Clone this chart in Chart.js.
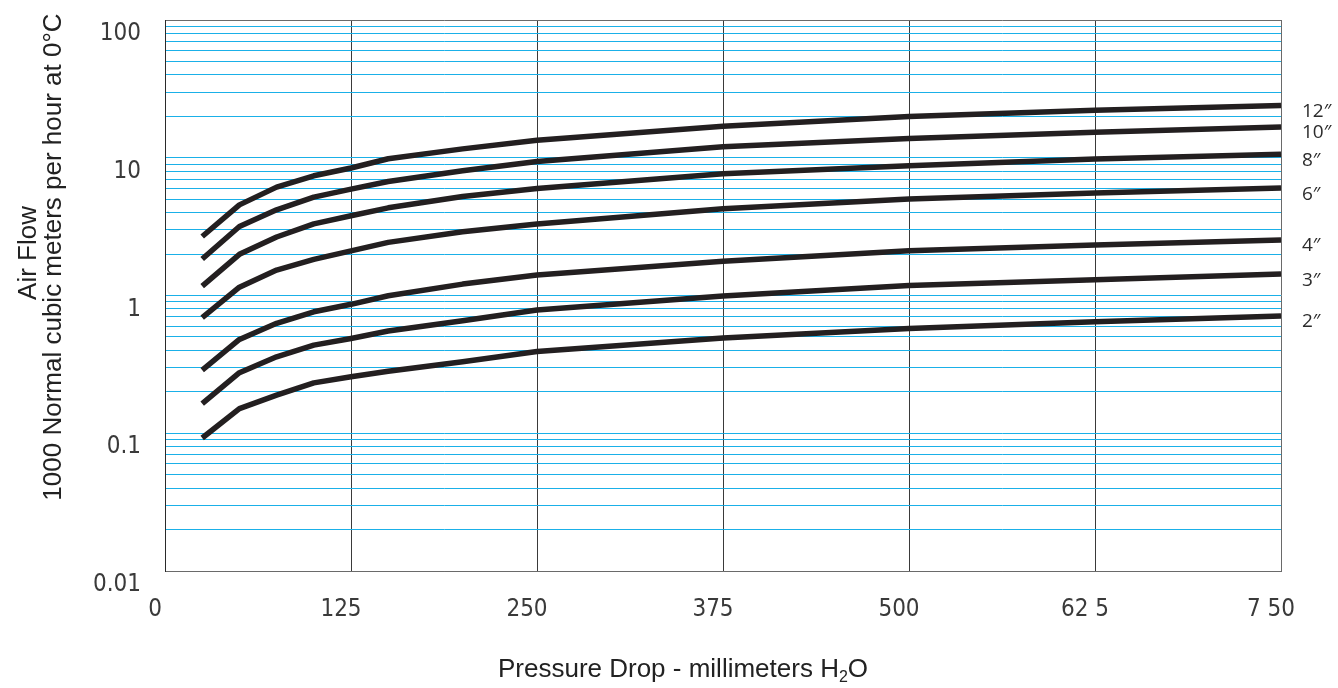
<!DOCTYPE html>
<html><head><meta charset="utf-8">
<script src="https://cdn.jsdelivr.net/npm/chart.js@4/dist/chart.umd.min.js"></script>
<style>html,body{margin:0;padding:0;background:#fff}#wrap{width:1338px;height:688px;position:relative}</style>
</head><body><div id="wrap"><canvas id="c" width="1338" height="688"></canvas></div>
<script>
// ---- data ----
const pressureDrop = [25, 50, 75, 100, 125, 150, 200, 250, 375, 500, 625, 750];
const seriesNames = ['12″', '10″', '8″', '6″', '4″', '3″', '2″'];
const flow12in = [2.68, 4.55, 6.12, 7.40, 8.42, 9.84, 11.6, 13.4, 16.9, 19.9, 22.1, 24.0];
const flow10in = [1.84, 3.17, 4.19, 5.18, 5.92, 6.72, 8.04, 9.40, 12.0, 13.8, 15.3, 16.7];
const flow8in  = [1.17, 1.99, 2.66, 3.31, 3.79, 4.33, 5.23, 5.98, 7.65, 8.75, 9.79, 10.6];
const flow6in  = [0.69, 1.15, 1.53, 1.83, 2.11, 2.43, 2.90, 3.31, 4.26, 5.01, 5.54, 6.02];
const flow4in  = [0.287, 0.480, 0.628, 0.762, 0.863, 0.996, 1.21, 1.41, 1.77, 2.11, 2.33, 2.53];
const flow3in  = [0.164, 0.275, 0.359, 0.436, 0.488, 0.552, 0.656, 0.785, 0.99, 1.18, 1.30, 1.43];
const flow2in  = [0.0924, 0.151, 0.189, 0.232, 0.257, 0.282, 0.330, 0.392, 0.491, 0.577, 0.645, 0.710];
const xTickLabels = ['0', '125', '250', '375', '500', '62 5', '7 50'];
const yTickLabels = ['0.01', '0.1', '1', '10', '100'];
const yTitleLines = ['Air Flow', '1000 Normal cubic meters per hour at 0°C'];
const xTitleParts = ['Pressure Drop - millimeters H', '2', 'O'];

const allSeries = [flow12in, flow10in, flow8in, flow6in, flow4in, flow3in, flow2in];

const TICK_FONT = "'Liberation Sans Narrow', 'DejaVu Sans Condensed', 'Arial Narrow', sans-serif";
const TITLE_FONT = "'Liberation Sans', Arial, Helvetica, sans-serif";
const LABEL_FONT = "'Open Sans', 'Liberation Sans', sans-serif";

const isDecade = v => Math.abs(Math.log10(v) - Math.round(Math.log10(v))) < 1e-9;

const textPlugin = {
  id: 'texts',
  afterDatasetsDraw(chart) {
    const ctx = chart.ctx;
    ctx.save();
    ctx.fillStyle = '#2b2b2b';
    ctx.font = "19px " + LABEL_FONT;
    ctx.textAlign = 'left';
    ctx.textBaseline = 'middle';
    chart.data.datasets.forEach((ds, i) => {
      const meta = chart.getDatasetMeta(i);
      const last = meta.data[meta.data.length - 1];
      ctx.fillText(ds.label, last.x + 21, last.y + 6);
    });
    ctx.restore();
  },
  afterDraw(chart) {
    const ctx = chart.ctx;
    ctx.save();
    ctx.fillStyle = '#222';
    // y title (rotated)
    ctx.font = "26px " + TITLE_FONT;
    ctx.textAlign = 'center';
    ctx.textBaseline = 'alphabetic';
    const yCenters = [[36, 253], [61, 257]];
    yTitleLines.forEach((t, i) => {
      ctx.save();
      ctx.translate(yCenters[i][0], yCenters[i][1]);
      ctx.rotate(-Math.PI / 2);
      ctx.fillText(t, 0, 0);
      ctx.restore();
    });
    // x title with subscript
    ctx.textAlign = 'left';
    const big = "26px " + TITLE_FONT, small = "16px " + TITLE_FONT;
    ctx.font = big; const w1 = ctx.measureText(xTitleParts[0]).width;
    ctx.font = small; const w2 = ctx.measureText(xTitleParts[1]).width;
    ctx.font = big; const w3 = ctx.measureText(xTitleParts[2]).width;
    let x = 683 - (w1 + w2 + w3) / 2;
    const base = 677;
    ctx.font = big; ctx.fillText(xTitleParts[0], x, base); x += w1;
    ctx.font = small; ctx.fillText(xTitleParts[1], x, base + 5); x += w2;
    ctx.font = big; ctx.fillText(xTitleParts[2], x, base);
    ctx.restore();
  }
};

new Chart(document.getElementById('c'), {
  type: 'line',
  data: {
    datasets: allSeries.map((arr, i) => ({
      label: seriesNames[i],
      data: pressureDrop.map((x, j) => ({ x: x, y: arr[j] })),
      borderColor: '#231f20',
      borderWidth: 5.5,
      pointRadius: 0,
      tension: 0,
      fill: false,
      borderCapStyle: 'butt',
      borderJoinStyle: 'round'
    }))
  },
  options: {
    responsive: false,
    animation: false,
    events: [],
    layout: { padding: { top: 20, right: 57, left: 0, bottom: 0 } },
    plugins: { legend: { display: false }, tooltip: { enabled: false }, title: { display: false } },
    scales: {
      x: {
        type: 'linear',
        min: 0, max: 750,
        afterFit: s => { s.height = 117; s.paddingLeft = 0; s.paddingRight = 0; },
        ticks: {
          stepSize: 125,
          autoSkip: false,
          maxRotation: 0,
          padding: 24,
          labelOffset: -10,
          color: '#3a3a3a',
          font: { family: TICK_FONT, size: 24 },
          callback: (v, i) => xTickLabels[i]
        },
        grid: {
          drawTicks: false,
          lineWidth: 1,
          color: ctx => (ctx.tick && (ctx.tick.value === 0 || ctx.tick.value === 750)) ? '#6a6a6a' : '#3a3a3a'
        },
        border: { display: true, color: '#6a6a6a', width: 1 }
      },
      y: {
        type: 'logarithmic',
        min: 0.01, max: 100,
        afterFit: s => { s.width = 165; s.paddingTop = 0; s.paddingBottom = 0; },
        afterBuildTicks: s => {
          const t = [];
          for (let e = -2; e < 2; e++) {
            for (let k = 1; k <= 9; k++) t.push({ value: k * Math.pow(10, e) });
          }
          t.push({ value: 100 });
          s.ticks = t;
        },
        ticks: {
          autoSkip: false,
          padding: 24,
          labelOffset: 14,
          color: '#3a3a3a',
          font: { family: TICK_FONT, size: 24 },
          callback: v => isDecade(v) ? yTickLabels[Math.round(Math.log10(v)) + 2] : ''
        },
        grid: {
          drawTicks: false,
          lineWidth: 1,
          color: ctx => {
            const v = ctx.tick ? ctx.tick.value : 0;
            if (Math.abs(v - 100) < 1e-9 || Math.abs(v - 0.01) < 1e-12) return '#6a6a6a';
            return '#1ab0e8';
          }
        },
        border: { display: true, color: '#2a2a2a', width: 1 }
      }
    }
  },
  plugins: [textPlugin]
});
</script>
</body></html>
